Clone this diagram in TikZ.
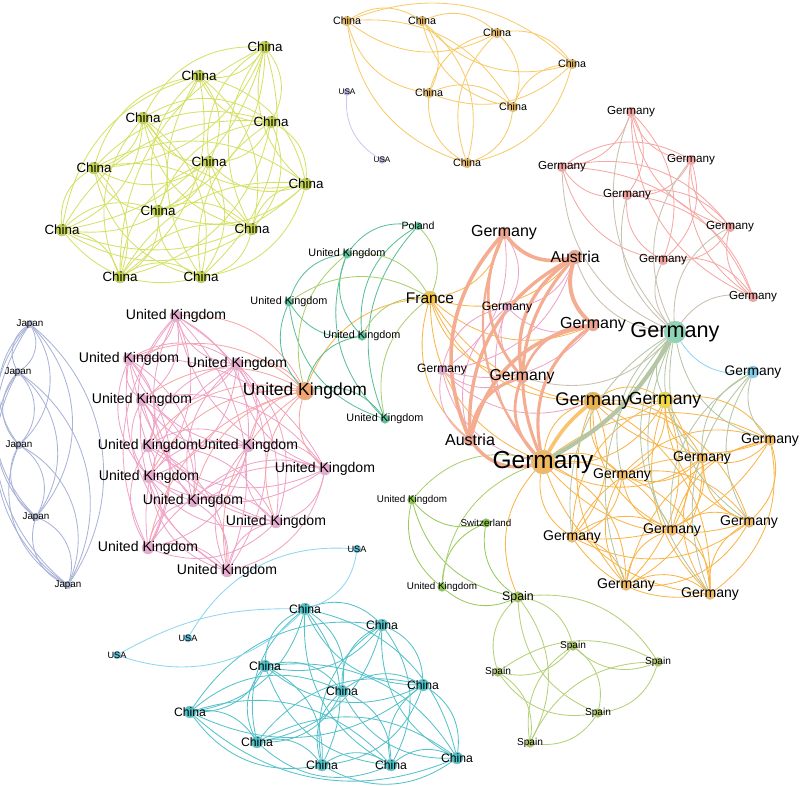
\documentclass[tikz,border=0pt]{standalone}
\usepackage{fontspec}
\setmainfont{Liberation Sans}
\usetikzlibrary{positioning}
\pgfdeclarelayer{background}
\pgfsetlayers{background,main}

\definecolor{limenode}{HTML}{C2D24A}
\definecolor{limeedge}{HTML}{D5E166}
\definecolor{chorange}{HTML}{E8BA5E}
\definecolor{chorangeedge}{HTML}{F8CB6A}
\definecolor{lavnode}{HTML}{B9B9E3}
\definecolor{lavedge}{HTML}{C9C9F0}
\definecolor{rosenode}{HTML}{F2A3A0}
\definecolor{roseedge}{HTML}{F6A7A4}
\definecolor{beige}{HTML}{C9C0AF}
\definecolor{salmon}{HTML}{F5AD92}
\definecolor{salmonnode}{HTML}{EFA48E}
\definecolor{pinkedge}{HTML}{EFA3C6}
\definecolor{pinknode}{HTML}{E7AACF}
\definecolor{ornode}{HTML}{F0B860}
\definecolor{oredge}{HTML}{F9B54A}
\definecolor{mint}{HTML}{8ED4B6}
\definecolor{skynode}{HTML}{7ECDEB}
\definecolor{yelnode}{HTML}{F1D83E}
\definecolor{goldnode}{HTML}{E9B24C}
\definecolor{sage}{HTML}{B4C6A3}
\definecolor{franode}{HTML}{F3C544}
\definecolor{ukgnode}{HTML}{58C498}
\definecolor{ukgedge}{HTML}{5CBF96}
\definecolor{lgedge}{HTML}{ABCF70}
\definecolor{ukbignode}{HTML}{F2A56E}
\definecolor{japnode}{HTML}{B7BFDD}
\definecolor{japedge}{HTML}{A9B3D8}
\definecolor{tealnode}{HTML}{4CC1C8}
\definecolor{tealedge}{HTML}{55C2CA}
\definecolor{usblue}{HTML}{8DD6EF}
\definecolor{usnode}{HTML}{5CBAD6}
\definecolor{spnode}{HTML}{A9C55C}
\definecolor{spedge}{HTML}{B3D177}
\definecolor{swnode}{HTML}{8CC64C}
\definecolor{swedge}{HTML}{98CA5C}

\tikzset{
  dot/.style={circle, inner sep=0pt, minimum size=#1*0.25mm, draw=black!25, line width=0.2pt},
  lbl/.style 2 args={label={[font=\fontsize{#1}{#1}\selectfont, text=black, inner sep=0pt]center:#2}},
  ed/.style={line width=0.6pt, bend right=32},
  back/.style={bend left=32},
}

% every pair of a list, one curved edge each, bending to either side
\newcommand{\clique}[2]{%
  \foreach \a [count=\i] in {#2} {%
    \foreach \b [count=\j] in {#2} {%
      \ifnum\j>\i
        \ifodd\numexpr\i+\j\relax \draw[ed, back, #1] (\a) to (\b);
        \else \draw[ed, #1] (\a) to (\b); \fi
      \fi
    }%
  }%
}

\begin{document}
\begin{tikzpicture}[x=0.025cm, y=-0.025cm]
  \useasboundingbox (0,0) rectangle (800,785);

  % === China (lime) ===
  \foreach \n/\x/\y in {1/265/47, 2/199/76, 3/143/118, 4/271/122, 5/209/162, 6/94/168,
      7/306/184, 8/158/211, 9/252/229, 10/62/230, 11/120/277, 12/201/277}
    \node[dot=12, fill=limenode, lbl={9.5}{China}] (lc\n) at (\x,\y) {};

  % === China (orange) and USA ===
  \foreach \n/\x/\y in {1/347/21, 2/422/21, 3/497/33, 4/572/64, 5/429/93, 6/513/107, 7/467/163}
    \node[dot=10, fill=chorange, lbl={7.6}{China}] (oc\n) at (\x,\y) {};
  \node[dot=7, fill=lavnode, lbl={5.8}{USA}] (pu1) at (347,92) {};
  \node[dot=7, fill=lavnode, lbl={5.8}{USA}] (pu2) at (382,160) {};

  % === Germany (rose) ===
  \foreach \n/\x/\y in {1/631/112, 2/562/167, 3/691/160, 4/627/195, 5/730/227, 6/663/260, 7/753/297}
    \node[dot=10, fill=rosenode, lbl={8.3}{Germany}] (pg\n) at (\x,\y) {};

  % === Germany / Austria core ===
  \node[dot=12, fill=salmonnode, lbl={11.4}{Germany}] (gtop) at (504,233) {};
  \node[dot=14, fill=salmonnode, lbl={11.2}{Austria}] (aut1) at (575,257) {};
  \node[dot=10, fill=pinknode, lbl={8.7}{Germany}] (gpk1) at (507,307) {};
  \node[dot=12, fill=salmonnode, lbl={11.4}{Germany}] (gsal) at (593,325) {};
  \node[dot=10, fill=pinknode, lbl={8.6}{Germany}] (gpk2) at (442,370) {};
  \node[dot=12, fill=salmonnode, lbl={11.2}{Germany}] (gmid) at (522,377) {};
  \node[dot=12, fill=salmonnode, lbl={11.4}{Austria}] (aut2) at (470,440) {};
  \node[dot=18, fill=goldnode, lbl={13}{Germany}] (ggold) at (593,401) {};
  \node[dot=22, fill=mint, lbl={15.4}{Germany}] (gteal) at (675,332) {};
  \node[dot=12, fill=skynode, lbl={9.8}{Germany}] (gblue) at (753,372) {};
  \node[dot=16, fill=yelnode, lbl={12.5}{Germany}] (gyel) at (665,400) {};
  \node[dot=24, fill=ornode, lbl={17.4}{Germany}] (ghuge) at (543,462) {};

  % === Germany (orange) ===
  \foreach \n/\x/\y in {1/770/440, 2/702/458, 3/622/475, 4/572/537, 5/672/530, 6/749/522,
      7/626/585, 8/710/594}
    \node[dot=11, fill=ornode, lbl={10}{Germany}] (og\n) at (\x,\y) {};

  % === France, Poland, United Kingdom (green) ===
  \node[dot=14, fill=franode, lbl={11}{France}] (fra) at (430,298) {};
  \node[dot=8, fill=ukgnode, lbl={7.5}{Poland}] (pol) at (418,226) {};
  \foreach \n/\x/\y in {1/347/254, 2/289/302, 3/362/336, 4/385/419}
    \node[dot=9, fill=ukgnode, lbl={7.7}{United Kingdom}] (ukg\n) at (\x,\y) {};
  \node[dot=18, fill=ukbignode, lbl={12.4}{United Kingdom}] (ukbig) at (305,391) {};

  % === United Kingdom (pink) ===
  \foreach \n/\x/\y in {1/176/316, 2/129/359, 3/237/364, 4/142/400, 5/148/446, 6/248/446,
      7/325/469, 8/149/477, 9/193/501, 10/276/522, 11/148/548, 12/227/571}
    \node[dot=12, fill=pinknode, lbl={10}{United Kingdom}] (uk\n) at (\x,\y) {};

  % === Japan ===
  \foreach \n/\x/\y in {1/30/324, 2/18/372, 3/19/445, 4/36/517, 5/68/585}
    \node[dot=8, fill=japnode, lbl={7}{Japan}] (jp\n) at (\x,\y) {};

  % === China (teal) and USA ===
  \foreach \n/\x/\y in {1/305/609, 2/382/625, 3/265/666, 4/342/691, 5/423/685, 6/190/712,
      7/257/742, 8/322/765, 9/391/765, 10/457/758}
    \node[dot=12, fill=tealnode, lbl={8.7}{China}] (tc\n) at (\x,\y) {};
  \node[dot=8, fill=usnode, lbl={6.5}{USA}] (us1) at (357,549) {};
  \node[dot=8, fill=usnode, lbl={6.5}{USA}] (us2) at (188,638) {};
  \node[dot=8, fill=usnode, lbl={6.5}{USA}] (us3) at (117,655) {};

  % === Spain, Switzerland ===
  \node[dot=11, fill=spnode, lbl={8.8}{Spain}] (sp1) at (518,597) {};
  \foreach \n/\x/\y in {2/573/646, 3/498/672, 4/658/662, 5/598/713, 6/530/743}
    \node[dot=9, fill=spnode, lbl={7.2}{Spain}] (sp\n) at (\x,\y) {};
  \node[dot=9, fill=swnode, lbl={7}{Switzerland}] (swi) at (486,523) {};
  \node[dot=9, fill=swnode, lbl={7}{United Kingdom}] (uks1) at (412,500) {};
  \node[dot=9, fill=swnode, lbl={7}{United Kingdom}] (uks2) at (442,587) {};

  \begin{pgfonlayer}{background}
    % clusters
    \clique{limeedge}{lc1,lc2,lc3,lc4,lc5,lc6,lc7,lc8,lc9,lc10,lc11,lc12}
    \clique{chorangeedge}{oc1,oc2,oc3,oc4,oc5,oc6,oc7}
    \clique{roseedge}{pg1,pg2,pg3,pg4,pg5,pg6,pg7}
    \clique{pinkedge}{uk1,uk2,uk3,uk4,uk5,uk6,uk7,uk8,uk9,uk10,uk11,uk12}
    \clique{japedge, bend right=42}{jp1,jp2,jp3,jp4,jp5}
    \clique{japedge, bend left=42}{jp1,jp2,jp3,jp4,jp5}
    \clique{tealedge}{tc1,tc2,tc3,tc4,tc5,tc6,tc7,tc8,tc9,tc10}
    \clique{spedge}{sp1,sp2,sp3,sp4,sp5,sp6}
    \clique{oredge}{ghuge,ggold,gyel,og1,og2,og3,og4,og5,og6,og7,og8}
    \draw[ed, lavedge] (pu1) to (pu2);

    % links out of the clusters
    \foreach \t in {pg1,pg2,pg3,pg4,pg5,pg6,pg7,aut1,gmid}
      \draw[ed, beige] (\t) to (gteal);
    \foreach \t in {og1,og2,og3,og4,og5,og6,og7,og8,gyel}
      \draw[ed, sage] (gteal) to (\t);
    \foreach \t in {og1,og2,og5,og6,og8}
      \draw[ed, sage] (gblue) to (\t);
    \draw[ed, usblue] (gteal) to (gblue);
    \foreach \t in {uk1,uk2,uk3,uk4,uk5,uk6,uk7,uk8,uk9,uk10,uk11,uk12}
      \draw[ed, roseedge] (ukbig) to (\t);
    \foreach \t in {gtop,aut1,gsal,gmid,aut2,ghuge,ggold,gyel,ukbig}
      \draw[ed, oredge] (fra) to (\t);
    \foreach \t in {gtop,aut1,gsal,gmid,aut2,ghuge,gpk2}
      \draw[ed, pinkedge] (gpk1) to (\t);
    \foreach \t in {gtop,aut1,gsal,gmid,aut2,ghuge,ggold}
      \draw[ed, pinkedge] (gpk2) to (\t);

    % United Kingdom (green)
    \foreach \s/\t in {ukg1/ukg2, ukg1/ukg3, ukg1/ukg4, pol/ukg1, ukg2/ukbig, ukg2/ukg4,
        ukg2/ukg3, ukg3/ukbig, pol/ukg3, ukg4/ukbig, pol/ukg4}
      \draw[ed, ukgedge] (\s) to (\t);
    \foreach \t in {ukg1,ukg2,ukg3,ukg4,pol}
      \draw[ed, lgedge] (fra) to (\t);
    \draw[ed, lgedge] (ukg1) to (ukbig);

    % Spain side
    \foreach \s/\t in {uks1/swi, uks1/uks2, uks1/sp1, swi/uks2, swi/sp1, uks2/sp1}
      \draw[ed, swedge] (\s) to (\t);
    \draw[ed, lgedge] (ghuge) to (uks1);
    \draw[ed, lgedge] (ghuge) to (uks2);
    \draw[ed, oredge] (ghuge) to (sp1);

    % USA links
    \draw[ed, usblue] (us1) to (us2);
    \draw[ed, usblue] (us3) to (tc1);
    \draw[ed, usblue, bend left=15] (us3) to (tc1);
    \draw[ed, usblue] (tc1) to (us1);

    % heavy links in the core
    \foreach \s/\t/\w in {gtop/aut1/2.6, gtop/aut2/2.6, aut1/gsal/2.8, aut1/aut2/2.4,
        aut1/ghuge/2.2, gsal/aut2/2.6, gsal/gmid/1.8, gsal/ghuge/2.2, gmid/aut2/2.2,
        gmid/ghuge/2.0, gtop/gmid/2.0, aut1/gmid/2.4, aut2/ghuge/2.4, gtop/ghuge/1.6}
      \draw[ed, salmon, line width=\w pt] (\s) to (\t);
    \draw[ed, oredge!80, line width=2.6pt, bend right=10] (ggold) to (ghuge);
    \draw[ed, sage, line width=3pt, back, bend left=15] (gteal) to (ghuge);
  \end{pgfonlayer}
\end{tikzpicture}
\end{document}
